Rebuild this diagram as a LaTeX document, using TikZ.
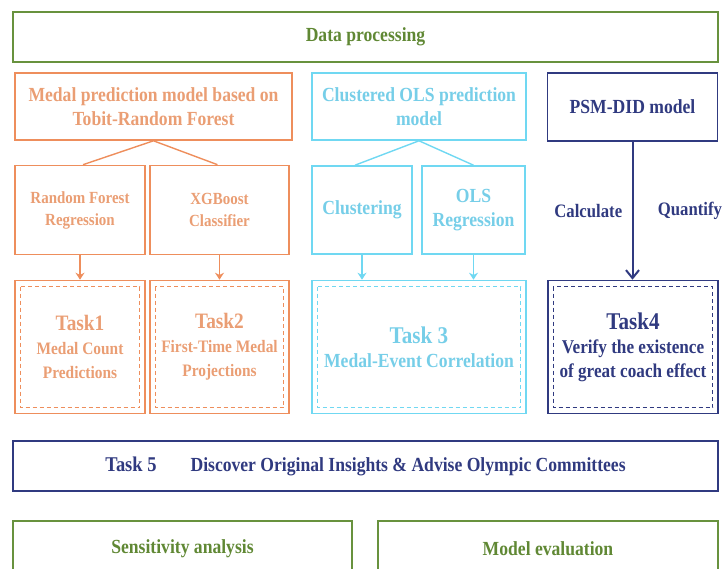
\documentclass[tikz,border=0pt]{standalone}
\usepackage{fontspec}
\setmainfont{Liberation Serif}[FakeStretch=0.88]
\usepackage{xcolor}
\usetikzlibrary{arrows.meta,positioning}
\definecolor{orangeline}{RGB}{238,142,92}
\definecolor{orangetext}{RGB}{234,158,116}
\definecolor{cyanline}{RGB}{112,216,242}
\definecolor{cyantext}{RGB}{118,206,232}
\definecolor{navy}{RGB}{48,58,128}
\definecolor{greenline}{RGB}{104,146,62}
\definecolor{greentext}{RGB}{96,136,52}

\begin{document}
\begin{tikzpicture}[x=1pt, y=-1pt,
  box/.style={draw, line width=1.6pt, align=center, inner sep=0pt,
    font=\fontsize{20}{24}\selectfont\bfseries},
  greenbox/.style={box, draw=greenline, text=greentext},
  orangebox/.style={box, draw=orangeline, text=orangetext},
  cyanbox/.style={box, draw=cyanline, text=cyantext},
  navybox/.style={box, draw=navy, text=navy},
  inner/.style={dashed, dash pattern=on 4pt off 3pt, line width=0.9pt},
  link/.style={line width=1.4pt},
  arr/.style={-{Stealth[length=7pt, width=9pt]}, line width=1.4pt},
]
  \useasboundingbox (0,0) rectangle (725,569);

  % top row
  \node[greenbox, minimum width=705pt, minimum height=50pt] (dp) at (365.5,37) {Data processing};
  \node[orangebox, minimum width=277pt, minimum height=67pt] (medal) at (153.5,106.5)
    {Medal prediction model based on\\Tobit-Random Forest};
  \node[cyanbox, minimum width=214pt, minimum height=67pt] (ols) at (419,106.5)
    {Clustered OLS prediction\\model};
  \node[navybox, minimum width=170pt, minimum height=68pt] (psm) at (632.5,107) {PSM-DID model};

  % methods
  \node[orangebox, minimum width=130pt, minimum height=89pt,
    font=\fontsize{17}{22}\selectfont\bfseries] (rf) at (80,210) {Random Forest\\Regression};
  \node[orangebox, minimum width=139pt, minimum height=89pt,
    font=\fontsize{17}{22}\selectfont\bfseries] (xgb) at (219.5,210) {XGBoost\\Classifier};
  \node[cyanbox, minimum width=100pt, minimum height=88pt] (clu) at (362,210) {Clustering};
  \node[cyanbox, minimum width=103pt, minimum height=88pt] (olsr) at (473.5,210) {OLS\\Regression};

  % tasks
  \node[orangebox, minimum width=130pt, minimum height=133pt,
    font=\fontsize{17.5}{24}\selectfont\bfseries] (t1) at (80,347)
    {{\fontsize{22}{26}\selectfont Task1}\\Medal Count\\Predictions};
  \node[orangebox, minimum width=139pt, minimum height=133pt,
    font=\fontsize{17.5}{24}\selectfont\bfseries] (t2) at (219.5,347)
    {{\fontsize{22}{26}\selectfont Task2}\\First-Time Medal\\Projections};
  \node[cyanbox, minimum width=214pt, minimum height=133pt] (t3) at (419,347)
    {{\fontsize{24}{28}\selectfont Task 3}\\Medal-Event Correlation};
  \node[navybox, minimum width=170pt, minimum height=133pt,
    font=\fontsize{19.5}{24}\selectfont\bfseries] (t4) at (633,347)
    {{\fontsize{24}{28}\selectfont Task4}\\Verify the existence\\of great coach effect};
  \foreach \t/\c in {t1/orangeline, t2/orangeline, t3/cyanline, t4/navy}
    \draw[inner, \c] ([shift={(6,7)}]\t.north west) rectangle ([shift={(-6,-7)}]\t.south east);

  % bottom
  \node[navybox, minimum width=705pt, minimum height=50pt] (t5) at (365.5,466)
    {{\fontsize{21}{24}\selectfont Task 5}\hspace{34pt}Discover Original Insights \& Advise Olympic Committees};
  \node[greenbox, minimum width=339pt, minimum height=56pt] (sens) at (182.5,549) {Sensitivity analysis};
  \node[greenbox, minimum width=340pt, minimum height=56pt] (eval) at (548,549) {Model evaluation};

  % connectors
  \draw[link, orangeline] ([xshift=3pt]rf.north) -- (medal.south) -- ([xshift=-2pt]xgb.north);
  \draw[link, cyanline] ([xshift=-7pt]clu.north) -- (ols.south) -- (olsr.north);
  \draw[arr, orangeline] (rf) -- (t1);
  \draw[arr, orangeline] (xgb) -- (t2);
  \draw[arr, cyanline] (clu) -- (clu |- t3.north);
  \draw[arr, cyanline] (olsr) -- (olsr |- t3.north);
  \draw[-{Straight Barb[length=8pt, width=13pt, line width=2pt]}, line width=2pt, navy]
    (psm) -- (psm |- t4.north)
    node[midway, left=6pt, font=\fontsize{19}{22}\selectfont\bfseries] {Calculate}
    node[midway, right=21pt, font=\fontsize{19}{22}\selectfont\bfseries] {Quantify};
\end{tikzpicture}
\end{document}
